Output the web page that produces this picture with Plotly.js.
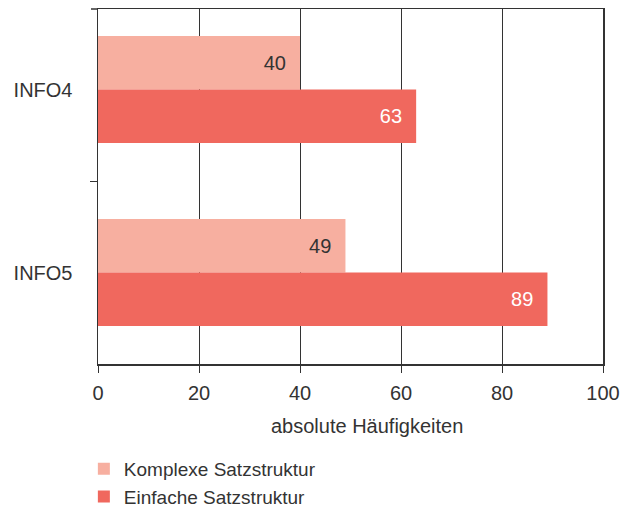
<!DOCTYPE html>
<html>
<head>
<meta charset="utf-8">
<script src="https://cdn.plot.ly/plotly-3.0.1.min.js"></script>
<style>html,body{margin:0;padding:0;background:#fff;}#chart{width:630px;height:511px;}</style>
</head>
<body>
<div id="chart"></div>
<script>
const categories = ["INFO4", "INFO5"];
const seriesNames = ["Komplexe Satzstruktur", "Einfache Satzstruktur"];
const komplexe = [40, 49];
const einfache = [63, 89];
const xTicks = [0, 20, 40, 60, 80, 100];
const xTitle = "absolute Häufigkeiten";

const FONT = "Liberation Sans, Arial, sans-serif";
const TXT = "#333333";
const FS = 20;
const NB = "\u00a0\u00a0";

const traces = [
  {
    type: "bar", orientation: "h", name: seriesNames[0],
    y: categories, x: komplexe,
    marker: {color: "#F7AFA0"},
    text: komplexe.map(v => v + NB), textposition: "inside", insidetextanchor: "end",
    textfont: {family: FONT, size: FS, color: TXT}, hoverinfo: "x+name"
  },
  {
    type: "bar", orientation: "h", name: seriesNames[1],
    y: categories, x: einfache,
    marker: {color: "#F0685E"},
    text: einfache.map(v => v + NB), textposition: "inside", insidetextanchor: "end",
    textfont: {family: FONT, size: FS, color: "#ffffff"}, hoverinfo: "x+name"
  }
];

const layout = {
  width: 630, height: 511,
  margin: {l: 98, r: 27, t: 9, b: 147, autoexpand: false},
  paper_bgcolor: "#fff", plot_bgcolor: "#fff",
  font: {family: FONT, size: FS, color: TXT},
  barmode: "group", bargap: 0.415, bargroupgap: 0,
  showlegend: true,
  legend: {orientation: "v", x: -0.028, xanchor: "left",
           yref: "container", y: 1 - 450/511, yanchor: "top",
           font: {family: FONT, size: 19, color: TXT}, traceorder: "normal",
           tracegroupgap: 0, bgcolor: "rgba(0,0,0,0)"},
  xaxis: {
    range: [0, 100], tickvals: xTicks, ticktext: xTicks.map(String),
    showgrid: true, gridcolor: "#333333", gridwidth: 1,
    showline: true, linecolor: "#333333", linewidth: 1.5, mirror: true,
    ticks: "outside", ticklen: 7, tickcolor: "#333333", ticklabelstandoff: 3,
    zeroline: false, tickfont: {family: FONT, size: FS, color: TXT},
    fixedrange: true, automargin: false
  },
  yaxis: {
    type: "category", range: [1.5, -0.44],
    showline: true, linecolor: "#333333", linewidth: 1.5, mirror: true,
    ticks: "outside", ticklen: 7, tickcolor: "#333333", tickson: "boundaries",
    showgrid: false, zeroline: false, ticklabelstandoff: 20,
    tickfont: {family: FONT, size: FS, color: TXT},
    fixedrange: true, automargin: false
  },
  annotations: [{
    text: xTitle, xref: "paper", yref: "paper", x: 0.533, y: -0.138,
    xanchor: "center", yanchor: "top", showarrow: false,
    font: {family: FONT, size: FS, color: TXT}
  }],
  shapes: [{
    type: "line", xref: "paper", yref: "paper", x0: -7/505, x1: 0, y0: 1, y1: 1,
    line: {color: "#333333", width: 1.5}
  }]
};

Plotly.newPlot("chart", traces, layout, {displayModeBar: false, staticPlot: true});
</script>
</body>
</html>
